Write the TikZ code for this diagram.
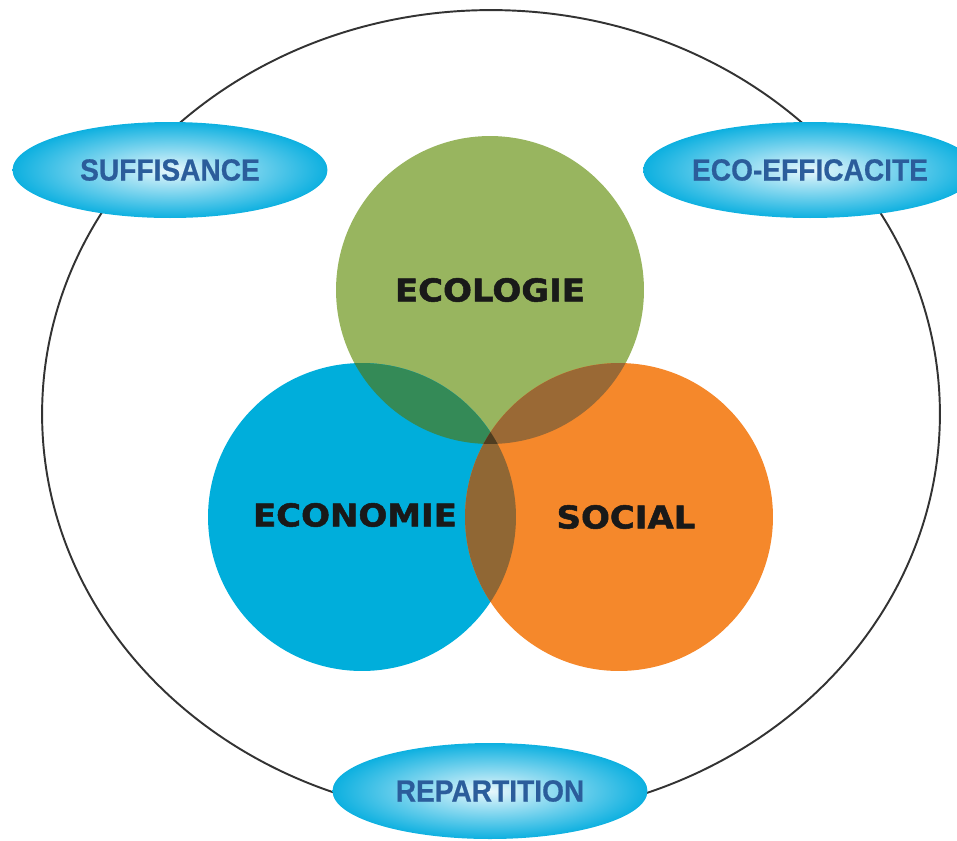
\documentclass[tikz,border=0pt]{standalone}
\usepackage{fontspec}
\usetikzlibrary{shapes.geometric}
\newfontfamily\pillarfont{DejaVu Sans}[FakeStretch=1.08, FakeBold=1.6]
\newfontfamily\tagfont{Liberation Sans}[FakeStretch=0.92, FakeBold=0.6]
\definecolor{ecoGreen}{HTML}{98B55F}
\definecolor{ecoBlue}{HTML}{00AEDB}
\definecolor{ecoOrange}{HTML}{F5882B}
\definecolor{lensGB}{HTML}{348A57}
\definecolor{lensGO}{HTML}{9A6935}
\definecolor{lensBO}{HTML}{906734}
\definecolor{lensAll}{HTML}{4F3D20}
\definecolor{tagBlue}{HTML}{0DB0E0}
\definecolor{tagText}{HTML}{2B5D9B}

\begin{document}
\begin{tikzpicture}[
    x = 0.02cm, y = -0.02cm,
    pillar/.style = {circle, minimum size = 6.16cm, inner sep = 0pt,
                     text = black!90, font = \pillarfont\bfseries\fontsize{17.9}{20}\selectfont},
    tag/.style    = {ellipse, minimum width = 6.3cm, minimum height = 1.92cm, inner sep = 0pt,
                     inner color = tagBlue!10, outer color = tagBlue,
                     text = tagText, font = \tagfont\bfseries\fontsize{17.4}{20}\selectfont},
    frame/.style  = {ellipse, draw = black!80, line width = 1.1pt,
                     minimum width = 17.96cm, minimum height = 16.16cm, inner sep = 0pt}
]
\clip (0,0) rectangle (957,840);

% Outer ring
\node[frame] (ring) at (491,414) {};

% Pillars
\node[pillar, fill = ecoGreen]  (ecologie) at (490,290) {ECOLOGIE};
\node[pillar, fill = ecoBlue]   (economie) at (362,517) {};
\node[pillar, fill = ecoOrange] (social)   at (619,517) {};

% Overlaps
\begin{scope}
  \clip (ecologie.center) circle [radius = 3.08cm];
  \fill[lensGB] (economie.center) circle [radius = 3.08cm];
  \fill[lensGO] (social.center)   circle [radius = 3.08cm];
\end{scope}
\begin{scope}
  \clip (economie.center) circle [radius = 3.08cm];
  \fill[lensBO] (social.center) circle [radius = 3.08cm];
  \clip (social.center) circle [radius = 3.08cm];
  \fill[lensAll] (ecologie.center) circle [radius = 3.08cm];
\end{scope}

% Pillar labels
\node[text = black!90, font = \pillarfont\bfseries\fontsize{17.9}{20}\selectfont]
     (economieText) at (355,515) {ECONOMIE};
\node[text = black!90, font = \pillarfont\bfseries\fontsize{17.9}{20}\selectfont]
     (socialText)   at (626,517) {SOCIAL};

% Tags on the ring
\node[tag] (suffisance)  at (170,170) {SUFFISANCE};
\node[tag] (efficacite)  at (810,170) {ECO-EFFICACITE};
\node[tag] (repartition) at (490,791) {REPARTITION};

\end{tikzpicture}
\end{document}
